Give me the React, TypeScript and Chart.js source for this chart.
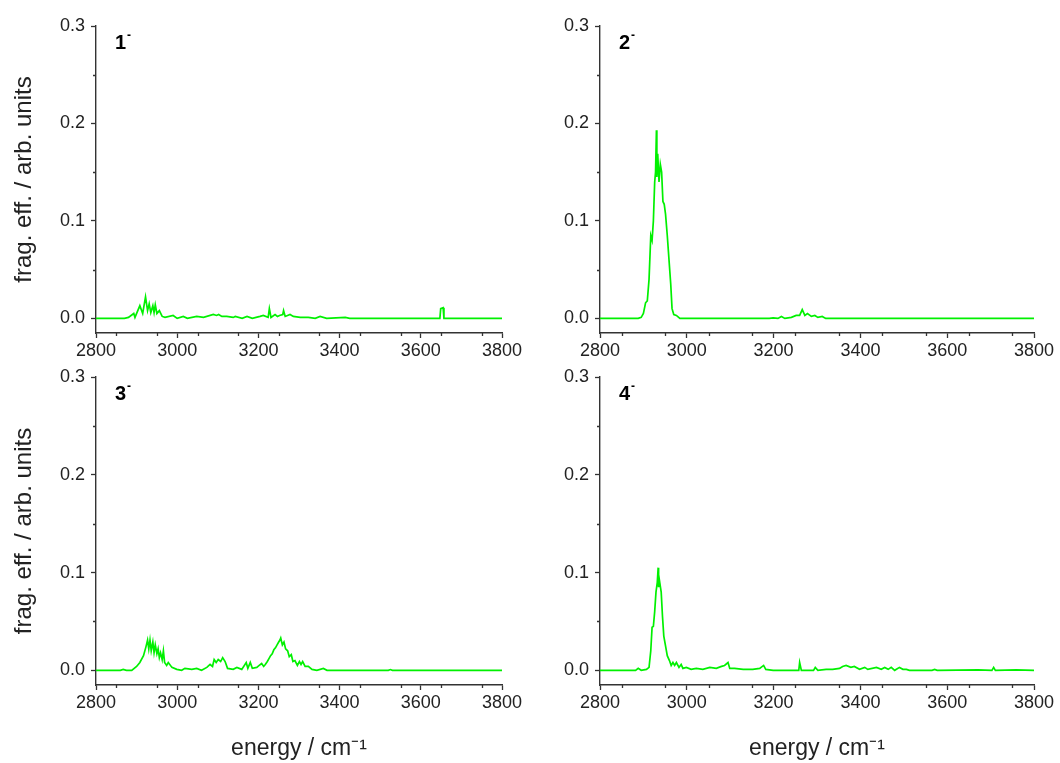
import React, { useEffect, useRef } from "react";
import { Chart, registerables } from "chart.js";

Chart.register(...registerables);

// ---------- data ----------
const xTickValues = [2800, 3000, 3200, 3400, 3600, 3800];
const yTickValues = [0, 0.1, 0.2, 0.3];
const panelLabels = ["1", "2", "3", "4"];

const energy1 = [2800, 2870, 2880, 2893, 2896, 2908, 2915, 2922, 2927, 2931, 2935, 2940, 2943, 2946, 2950, 2956, 2963, 2970, 2990, 3000, 3015, 3025, 3048, 3065, 3089, 3097, 3102, 3110, 3122, 3138, 3143, 3160, 3172, 3185, 3204, 3212, 3224, 3227, 3231, 3241, 3247, 3252, 3260, 3262, 3266, 3278, 3286, 3303, 3323, 3340, 3352, 3368, 3414, 3425, 3647, 3649, 3655, 3657, 3800];
const values1 = [0, 0, 0.001, 0.005, 0.001, 0.013, 0.005, 0.022, 0.008, 0.015, 0.006, 0.013, 0.006, 0.014, 0.005, 0.008, 0.002, 0.001, 0.003, 0.0, 0.002, 0.0, 0.002, 0.001, 0.004, 0.003, 0.004, 0.002, 0.002, 0.001, 0.002, 0.0, 0.002, 0.0, 0.002, 0.003, 0.001, 0.010, 0.001, 0.004, 0.002, 0.003, 0.004, 0.008, 0.002, 0.004, 0.002, 0.001, 0.001, 0.0, 0.002, 0, 0.001, 0, 0, 0.010, 0.011, 0, 0];

const energy2 = [2800, 2888, 2895, 2900, 2905, 2909, 2913, 2917, 2920, 2923, 2926, 2928, 2930, 2931, 2933, 2936, 2939, 2942, 2945, 2948, 2951, 2955, 2959, 2963, 2966, 2970, 2976, 2984, 3190, 3199, 3210, 3218, 3226, 3241, 3252, 3260, 3266, 3272, 3278, 3287, 3295, 3302, 3312, 3320, 3800];
const values2 = [0, 0, 0.001, 0.005, 0.016, 0.018, 0.04, 0.085, 0.08, 0.1, 0.14, 0.15, 0.193, 0.145, 0.169, 0.14, 0.158, 0.15, 0.12, 0.117, 0.107, 0.085, 0.06, 0.035, 0.01, 0.004, 0.003, 0, 0, 0.0005, 0.0, 0.002, 0.0, 0.001, 0.003, 0.003, 0.009, 0.003, 0.005, 0.002, 0.003, 0.001, 0.002, 0, 0];

const energy3 = [2800, 2860, 2867, 2875, 2888, 2900, 2908, 2917, 2923, 2927, 2930, 2933, 2936, 2940, 2943, 2946, 2950, 2953, 2956, 2959, 2963, 2966, 2969, 2974, 2978, 2987, 2999, 3011, 3019, 3036, 3048, 3060, 3073, 3081, 3087, 3091, 3096, 3101, 3107, 3112, 3118, 3124, 3138, 3147, 3159, 3170, 3174, 3180, 3185, 3196, 3202, 3208, 3213, 3217, 3222, 3226, 3230, 3234, 3238, 3242, 3246, 3250, 3253, 3255, 3259, 3263, 3267, 3272, 3276, 3281, 3285, 3290, 3296, 3301, 3305, 3309, 3315, 3323, 3332, 3344, 3360, 3369, 3520, 3525, 3530, 3800];
const values3 = [0, 0, 0.001, 0, 0, 0.004, 0.008, 0.015, 0.024, 0.031, 0.022, 0.031, 0.02, 0.029, 0.018, 0.026, 0.017, 0.022, 0.013, 0.018, 0.011, 0.02, 0.008, 0.005, 0.008, 0.003, 0.001, 0.0, 0.002, 0.001, 0.002, 0.0, 0.003, 0.006, 0.004, 0.011, 0.008, 0.011, 0.009, 0.013, 0.009, 0.002, 0.001, 0.003, 0.001, 0.008, 0.002, 0.008, 0.002, 0.003, 0.005, 0.007, 0.004, 0.006, 0.009, 0.012, 0.015, 0.017, 0.021, 0.023, 0.026, 0.029, 0.031, 0.033, 0.026, 0.029, 0.022, 0.02, 0.014, 0.016, 0.009, 0.01, 0.005, 0.009, 0.006, 0.009, 0.004, 0.004, 0.001, 0.0, 0.002, 0, 0, 0.0008, 0, 0];

const energy4 = [2800, 2882, 2888, 2895, 2907, 2913, 2917, 2920, 2923, 2926, 2929, 2932, 2934, 2935, 2937, 2941, 2944, 2947, 2951, 2955, 2960, 2964, 2968, 2972, 2976, 2982, 2987, 2991, 2999, 3010, 3022, 3037, 3053, 3068, 3080, 3087, 3095, 3099, 3110, 3130, 3152, 3168, 3177, 3182, 3199, 3245, 3258, 3260, 3264, 3275, 3292, 3296, 3302, 3321, 3336, 3352, 3359, 3367, 3378, 3386, 3398, 3410, 3417, 3437, 3448, 3456, 3464, 3471, 3479, 3490, 3498, 3506, 3513, 3565, 3571, 3577, 3671, 3703, 3707, 3711, 3759, 3800];
const values4 = [0, 0, 0.002, 0, 0.001, 0.003, 0.02, 0.044, 0.045, 0.06, 0.08, 0.09, 0.105, 0.085, 0.092, 0.08, 0.055, 0.035, 0.025, 0.015, 0.01, 0.005, 0.008, 0.005, 0.008, 0.003, 0.006, 0.002, 0.003, 0.001, 0.002, 0.001, 0.003, 0.002, 0.004, 0.005, 0.008, 0.002, 0.002, 0.001, 0.001, 0.002, 0.005, 0.001, 0, 0, 0, 0.008, 0, 0, 0, 0.003, 0, 0.001, 0.001, 0.002, 0.004, 0.005, 0.003, 0.004, 0.001, 0.003, 0.001, 0.003, 0.001, 0.003, 0.001, 0.003, 0, 0.003, 0.001, 0.001, 0, 0, 0.001, 0, 0.0005, 0, 0.003, 0, 0.0005, 0];

const energies = [energy1, energy2, energy3, energy4];
const valuesList = [values1, values2, values3, values4];

// ---------- styling ----------
const FONT = "'Liberation Sans', Arial, Helvetica, sans-serif";
const AXIS = "#333333";
const TEXT = "#222222";
const GREEN = "#00f000";

type PanelGeom = {
  left: number; top: number; width: number; height: number;
  yWidth: number; padTop: number; padRight: number; xHeight: number;
  yTitle: boolean; xTitle: boolean;
};

const geoms: PanelGeom[] = [
  { left: 0, top: 0, width: 530, height: 358, yWidth: 96, padTop: 26, padRight: 28, xHeight: 25, yTitle: true, xTitle: false },
  { left: 530, top: 0, width: 530, height: 358, yWidth: 70, padTop: 26, padRight: 26, xHeight: 25, yTitle: false, xTitle: false },
  { left: 0, top: 358, width: 530, height: 405, yWidth: 96, padTop: 19, padRight: 28, xHeight: 78, yTitle: true, xTitle: true },
  { left: 530, top: 358, width: 530, height: 405, yWidth: 70, padTop: 19, padRight: 26, xHeight: 78, yTitle: false, xTitle: true },
];

const minorTicksPlugin = {
  id: "minorTicks",
  afterDraw(chart: any) {
    const ctx = chart.ctx;
    const xs = chart.scales.x;
    const ys = chart.scales.y;
    ctx.save();
    ctx.strokeStyle = AXIS;
    ctx.lineWidth = 1.3;
    ctx.beginPath();
    for (let v = 2850; v < 3800; v += 100) {
      const px = Math.round(xs.getPixelForValue(v)) + 0.5;
      ctx.moveTo(px, xs.top);
      ctx.lineTo(px, xs.top + 3);
    }
    for (const v of [0.05, 0.15, 0.25]) {
      const py = Math.round(ys.getPixelForValue(v)) + 0.5;
      ctx.moveTo(ys.right, py);
      ctx.lineTo(ys.right - 3, py);
    }
    ctx.stroke();
    ctx.restore();
  },
};

const panelLabelPlugin = {
  id: "panelLabel",
  afterDraw(chart: any, _args: any, opts: any) {
    const ctx = chart.ctx;
    const { left, top } = chart.chartArea;
    ctx.save();
    ctx.fillStyle = "#000";
    ctx.textBaseline = "alphabetic";
    ctx.textAlign = "left";
    ctx.font = `bold 20px ${FONT}`;
    const x = left + 19;
    const y = top + 23;
    ctx.fillText(opts.text, x, y);
    const w = ctx.measureText(opts.text).width;
    ctx.font = `bold 12px ${FONT}`;
    ctx.fillText("-", x + w + 1, y - 10);
    ctx.restore();
  },
};

function Panel({ idx }: { idx: number }) {
  const ref = useRef<HTMLCanvasElement | null>(null);
  const g = geoms[idx];
  useEffect(() => {
    if (!ref.current) return;
    const xs = energies[idx];
    const ys = valuesList[idx];
    const data = xs.map((e, i) => ({ x: e, y: ys[i] }));
    const chart = new Chart(ref.current, {
      type: "line",
      data: {
        datasets: [
          {
            data,
            borderColor: GREEN,
            borderWidth: 1.7,
            pointRadius: 0,
            tension: 0,
            fill: false,
          },
        ],
      },
      options: {
        animation: false,
        responsive: false,
        events: [],
        layout: { padding: { top: g.padTop, right: g.padRight, left: 0, bottom: 0 } },
        plugins: {
          legend: { display: false },
          tooltip: { enabled: false },
          title: { display: false },
          panelLabel: { text: panelLabels[idx] },
        } as any,
        scales: {
          x: {
            type: "linear",
            min: 2800,
            max: 3800,
            afterBuildTicks: (s: any) => {
              s.ticks = xTickValues.map((v) => ({ value: v }));
            },
            afterFit: (s: any) => {
              s.height = g.xHeight;
              s.paddingLeft = 0;
              s.paddingRight = 0;
            },
            ticks: {
              autoSkip: false,
              maxRotation: 0,
              minRotation: 0,
              padding: 2,
              color: TEXT,
              font: { family: FONT, size: 18 },
              callback: (v: any) => String(v),
            },
            grid: {
              display: true,
              drawOnChartArea: false,
              drawTicks: true,
              tickLength: 5,
              tickColor: AXIS,
              tickWidth: 1.3,
            },
            border: { display: true, color: AXIS, width: 1.4 },
            title: {
              display: g.xTitle,
              text: "energy / cm⁻¹",
              color: TEXT,
              font: { family: FONT, size: 23 },
              padding: { top: 0, bottom: 1 },
            },
          },
          y: {
            type: "linear",
            min: -0.015,
            max: 0.3,
            afterBuildTicks: (s: any) => {
              s.ticks = yTickValues.map((v) => ({ value: v }));
            },
            afterFit: (s: any) => {
              s.width = g.yWidth;
              s.paddingTop = 0;
              s.paddingBottom = 0;
            },
            ticks: {
              autoSkip: false,
              padding: 6,
              color: TEXT,
              font: { family: FONT, size: 18 },
              callback: (v: any) => Number(v).toFixed(1),
            },
            grid: {
              display: true,
              drawOnChartArea: false,
              drawTicks: true,
              tickLength: 5,
              tickColor: AXIS,
              tickWidth: 1.3,
            },
            border: { display: true, color: AXIS, width: 1.4 },
            title: {
              display: g.yTitle,
              text: "frag. eff. / arb. units",
              color: TEXT,
              font: { family: FONT, size: 24 },
              padding: { top: 10, bottom: 0 },
            },
          },
        },
      },
      plugins: [minorTicksPlugin, panelLabelPlugin],
    } as any);
    return () => chart.destroy();
  }, [idx]);
  return (
    <canvas
      ref={ref}
      width={g.width}
      height={g.height}
      style={{ position: "absolute", left: g.left, top: g.top, width: g.width, height: g.height }}
    />
  );
}

export default function App() {
  return (
    <div style={{ position: "absolute", left: 0, top: 0, width: 1060, height: 763, background: "#fff", overflow: "hidden" }}>
      {[0, 1, 2, 3].map((i) => (
        <Panel key={i} idx={i} />
      ))}
    </div>
  );
}
